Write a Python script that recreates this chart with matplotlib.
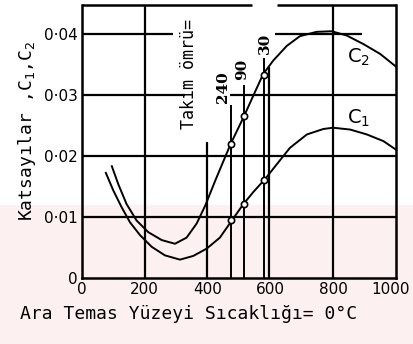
# Katsayilar C1, C2 vs ara temas yuzeyi sicakligi (taranmis grafik)
import matplotlib
matplotlib.use('Agg')
import matplotlib.pyplot as plt
from matplotlib.patches import Rectangle
import matplotlib.transforms as mtrans

# okunan degerler
c1_x = [76, 100, 126, 153, 185, 222, 264, 312, 354, 397, 439, 477, 514, 546, 583, 620, 662, 716,
        769, 800, 854, 907, 960, 1000]
c1_y = [0.0172, 0.0143, 0.0116, 0.0091, 0.0070, 0.0051, 0.0037, 0.0030, 0.0036, 0.0048, 0.0066,
        0.0094, 0.0121, 0.0141, 0.0162, 0.0186, 0.0213, 0.0235, 0.0244, 0.0246, 0.0243, 0.0235,
        0.0224, 0.0210]
c2_x = [95, 116, 142, 174, 211, 254, 296, 333, 365, 392, 424, 455, 473, 516, 545, 577, 609, 652,
        694, 747, 795, 843, 896, 949, 1000]
c2_y = [0.0183, 0.0153, 0.0121, 0.0094, 0.0075, 0.0062, 0.0056, 0.0066, 0.0089, 0.0118, 0.0159,
        0.0197, 0.0219, 0.0265, 0.0298, 0.0334, 0.0356, 0.0380, 0.0396, 0.0403, 0.0404, 0.0397,
        0.0383, 0.0367, 0.0346]

# takim omru noktalari (240, 90, 30 dk)
omur_labels = ['240', '90', '30']
omur_x = [475, 515, 581]
omur_c1 = [0.0095, 0.0121, 0.0161]
omur_c2 = [0.0220, 0.0265, 0.0333]
omur_top = [0.0284, 0.0316, 0.0361]
omur_text_x = [449, 509, 583]
omur_text_y = [0.0313, 0.0341, 0.0384]

xticks = [0, 200, 400, 600, 800, 1000]
yticks = [0, 0.01, 0.02, 0.03, 0.04]
ytick_labels = ['0', '0·01', '0·02', '0·03', '0·04']

mono = 'DejaVu Sans Mono'

fig = plt.figure(figsize=(4.13, 3.44), dpi=100)
# soluk pembe filigran
fig.patches.append(Rectangle((0, 0), 1, 0.405, transform=fig.transFigure,
                             color='#fdf0f1', zorder=-10))
ax = fig.add_axes([0.1985, 0.192, 0.7605, 0.7935])
ax.set_facecolor('none')

ymax = 0.0447
ax.set_xlim(0, 1000)
ax.set_ylim(0, ymax)

# el cizimi izgara
lc = 'black'
gw = 1.6
ax.axvline(200, color=lc, lw=gw, zorder=1)
ax.axvline(800, color=lc, lw=gw, zorder=1)
ax.vlines(399, 0, 0.0223, color=lc, lw=gw, zorder=1)
ax.vlines(597, 0, 0.0345, color=lc, lw=gw, zorder=1)
ax.hlines(0.01, 0, 1000, color=lc, lw=gw, zorder=1)
ax.hlines(0.02, 0, 1000, color=lc, lw=gw, zorder=1)
ax.hlines(0.03, 0, 328, color=lc, lw=gw, zorder=1)
ax.hlines(0.03, 470, 1000, color=lc, lw=gw, zorder=1)
ax.hlines(0.04, 0, 290, color=lc, lw=gw, zorder=1)
ax.hlines(0.04, 615, 890, color=lc, lw=gw, zorder=1)

# egriler
ax.plot(c1_x, c1_y, color='black', lw=1.4, zorder=3)
ax.plot(c2_x, c2_y, color='black', lw=1.4, zorder=3)

# takim omru cizgileri ve noktalar
for lab, x, yt, tx, ty in zip(omur_labels, omur_x, omur_top, omur_text_x, omur_text_y):
    ax.vlines(x, 0, yt, color='black', lw=1.4, zorder=2)
    ax.text(tx, ty, lab, rotation=90, ha='center', va='center', fontsize=11,
            fontweight='bold', family='DejaVu Serif')
ax.plot(omur_x, omur_c1, 'o', ms=4.5, mfc='white', mec='black', mew=1.2, zorder=4)
ax.plot(omur_x, omur_c2, 'o', ms=4.5, mfc='white', mec='black', mew=1.2, zorder=4)

ax.text(341, 0.0334, 'Takım ömrü=', rotation=90, ha='center', va='center',
        fontsize=12, family=mono)
ax.text(880, 0.0361, 'C$_2$', fontsize=14, ha='center', va='center')
ax.text(880, 0.0261, 'C$_1$', fontsize=14, ha='center', va='center')

# cerceve (ustte kucuk bosluk var)
for s in ax.spines.values():
    s.set_linewidth(1.8)
ax.spines['top'].set_visible(False)
ax.hlines(ymax, 0, 541, color='black', lw=1.8, clip_on=False, zorder=5)
ax.hlines(ymax, 620, 1000, color='black', lw=1.8, clip_on=False, zorder=5)

ax.set_xticks(xticks)
ax.set_xticklabels([str(v) for v in xticks], fontsize=11)
ax.set_yticks(yticks)
ax.set_yticklabels(ytick_labels, fontsize=11)
ax.tick_params(length=0, pad=3)
# son etiketi biraz sola kaydir
last = ax.get_xticklabels()[-1]
last.set_transform(last.get_transform() + mtrans.ScaledTranslation(-4 / 72, 0, fig.dpi_scale_trans))

ax.set_xlabel('Ara Temas Yüzeyi Sıcaklığı= 0°C', family=mono, fontsize=13, labelpad=6, x=0.34)
ax.set_ylabel('Katsayılar ,C$_1$,C$_2$', family=mono, fontsize=13, labelpad=4, y=0.54)

fig.savefig('out.png', dpi=100)
